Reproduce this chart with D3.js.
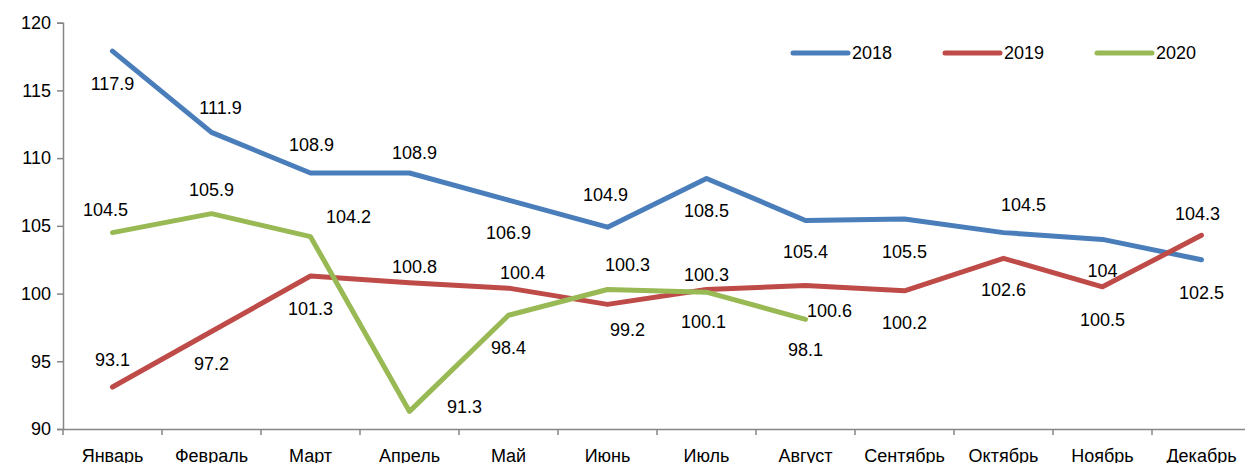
<!DOCTYPE html>
<html>
<head>
<meta charset="utf-8">
<script src="https://cdn.jsdelivr.net/npm/d3@7"></script>
<style>
    body { margin: 0; background: #fff; }
    text { font-family: "Liberation Sans", Arial, sans-serif; font-size: 18px; fill: #000; }
</style>
</head>
<body>
<svg width="1245" height="463"></svg>
<script>
var months = ["Январь", "Февраль", "Март", "Апрель", "Май", "Июнь", "Июль", "Август", "Сентябрь", "Октябрь", "Ноябрь", "Декабрь"];
var years = ["2018", "2019", "2020"];
var v2018 = [117.9, 111.9, 108.9, 108.9, 106.9, 104.9, 108.5, 105.4, 105.5, 104.5, 104, 102.5];
var v2019 = [93.1, 97.2, 101.3, 100.8, 100.4, 99.2, 100.3, 100.6, 100.2, 102.6, 100.5, 104.3];
var v2020 = [104.5, 105.9, 104.2, 91.3, 98.4, 100.3, 100.1, 98.1];
var yTicks = [90, 95, 100, 105, 110, 115, 120];

// label offsets from the point (px), as the labels were placed by hand in the original
var off2018 = [[0, 33], [9, -24], [1, -28], [5, -20], [0, 33], [-2, -32], [0, 33], [0, 32], [0, 33], [20, -28], [0, 32], [0, 33]];
var off2019 = [[0, -27], [0, 33], [0, 33], [5, -16], [14, -15], [20, 26], [0, -15], [24, 26], [0, 32], [0, 32], [0, 33], [-4, -21]];
var off2020 = [[-7, -23], [0, -24], [38, -20], [55, -4], [0, 33], [20, -25], [-3, 30], [0, 31]];

var colors = ["#4A7EBB", "#BE4B48", "#98B954"];
var series = [
    { name: years[0], values: v2018, off: off2018 },
    { name: years[1], values: v2019, off: off2019 },
    { name: years[2], values: v2020, off: off2020 }
];

var svg = d3.select("svg");

var x = d3.scaleBand().domain(months).range([63, 1251]);
var y = d3.scaleLinear().domain([90, 120]).range([429, 22.7]);

// y axis
var yAxis = svg.append("g")
    .attr("transform", "translate(63,0)")
    .call(d3.axisLeft(y).tickValues(yTicks).tickSize(6).tickPadding(6));
yAxis.select(".domain").attr("stroke", "#868686").attr("stroke-width", 1.5);
yAxis.selectAll(".tick line").attr("stroke", "#868686").attr("stroke-width", 1.5);
yAxis.selectAll("text").attr("font-size", 18).attr("font-family", "Liberation Sans, Arial, sans-serif").attr("fill", "#000");

// x axis, ticks between categories
var xAxis = svg.append("g")
    .attr("transform", "translate(0,429)")
    .call(d3.axisBottom(x).tickSize(0).tickPadding(20));
xAxis.select(".domain").attr("stroke", "#868686").attr("stroke-width", 1.5);
xAxis.selectAll("text").attr("font-size", 18).attr("font-family", "Liberation Sans, Arial, sans-serif").attr("fill", "#000");
xAxis.selectAll(".sep").data(months).enter().append("line")
    .attr("class", "sep")
    .attr("x1", function (d) { return x(d); })
    .attr("x2", function (d) { return x(d); })
    .attr("y1", 0).attr("y2", 6)
    .attr("stroke", "#868686").attr("stroke-width", 1.5);

var line = d3.line()
    .x(function (d, i) { return x(months[i]) + x.bandwidth() / 2; })
    .y(function (d) { return y(d); });

series.forEach(function (s, k) {
    svg.append("path")
        .datum(s.values)
        .attr("d", line)
        .attr("fill", "none")
        .attr("stroke", colors[k])
        .attr("stroke-width", 5)
        .attr("stroke-linejoin", "round")
        .attr("stroke-linecap", "round");
});

// data labels
series.forEach(function (s) {
    svg.append("g").selectAll("text").data(s.values).enter().append("text")
        .attr("x", function (d, i) { return x(months[i]) + x.bandwidth() / 2 + s.off[i][0]; })
        .attr("y", function (d, i) { return y(d) + s.off[i][1]; })
        .attr("text-anchor", "middle")
        .attr("dominant-baseline", "central")
        .text(function (d) { return d; });
});

// legend
var legend = svg.append("g").attr("transform", "translate(793,53)");
var item = legend.selectAll("g").data(years).enter().append("g")
    .attr("transform", function (d, i) { return "translate(" + (i * 152) + ",0)"; });
item.append("line")
    .attr("x1", 0).attr("x2", 55).attr("y1", 0).attr("y2", 0)
    .attr("stroke", function (d, i) { return colors[i]; })
    .attr("stroke-width", 5)
    .attr("stroke-linecap", "round");
item.append("text")
    .attr("x", 59).attr("y", 0)
    .attr("dominant-baseline", "central")
    .text(function (d) { return d; });
</script>
</body>
</html>
